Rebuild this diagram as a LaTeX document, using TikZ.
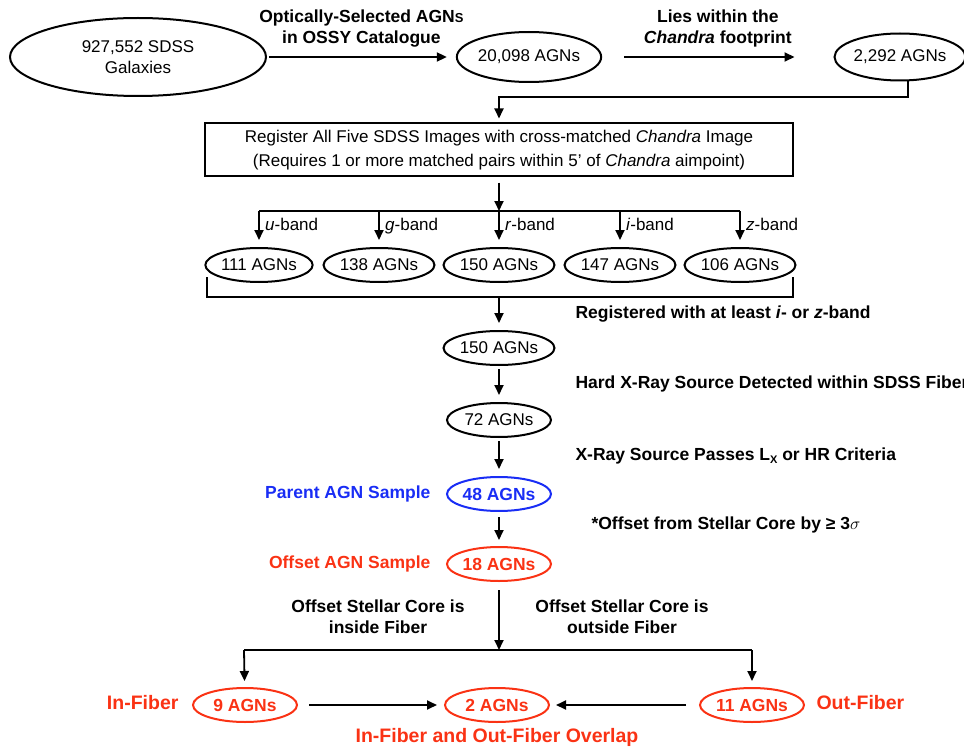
\documentclass[tikz,border=0pt]{standalone}
\usepackage{fontspec}
\setmainfont{Liberation Sans}
\usetikzlibrary{shapes.geometric,arrows.meta}
\definecolor{agnred}{RGB}{250,50,20}
\definecolor{agnblue}{RGB}{25,45,245}
\tikzset{
  galaxy/.style={draw,ellipse,line width=2pt,inner sep=0pt,align=center,font=\fontsize{17}{21}\selectfont},
  sample/.style={galaxy,minimum width=104pt,minimum height=34pt},
  redsample/.style={sample,draw=agnred,text=agnred,font=\bfseries\fontsize{17.5}{21}\selectfont},
  cut/.style={font=\bfseries\fontsize{17.5}{21}\selectfont,align=center},
  fiber/.style={cut,text=agnred,font=\bfseries\fontsize{19.5}{23}\selectfont},
  band/.style={font=\fontsize{17}{21}\selectfont,anchor=base west,inner sep=0pt},
  link/.style={draw,line width=1.8pt},
  arr/.style={link,-{Triangle[length=10pt,width=9pt]}},
}
\begin{document}
\begin{tikzpicture}[x=1pt,y=-1pt]
\useasboundingbox (0,0) rectangle (964,749);

\node[galaxy,minimum width=256pt,minimum height=78pt] (sdss) at (138,57) {927,552 SDSS\\Galaxies};
\node[galaxy,minimum width=141pt,minimum height=50pt] (ossy) at (529,57) {20,098 AGNs};
\node[galaxy,minimum width=115pt,minimum height=47pt] (fp) at (900,57) {2,292 AGNs};

\node[draw,line width=2pt,minimum width=588pt,minimum height=53pt,align=center,font=\fontsize{17}{24}\selectfont] (reg) at (499,150)
  {Register All Five SDSS Images with cross-matched \textit{Chandra} Image\\(Requires 1 or more matched pairs within 5' of \textit{Chandra} aimpoint)};

\coordinate (fpdown) at (908,97);
\coordinate (bsplit) at (499,211);
\coordinate (bu) at (259,211);
\coordinate (bg) at (379,211);
\coordinate (br) at (499,211);
\coordinate (bi) at (620,211);
\coordinate (bz) at (740,211);

\node[sample] (b111) at (259,265) {111 AGNs};
\node[sample] (b138) at (379,265) {138 AGNs};
\node[sample] (b150) at (499,265) {150 AGNs};
\node[sample] (b147) at (620,265) {147 AGNs};
\node[sample] (b106) at (740,265) {106 AGNs};

\node[band] (lu) at (265,230) {\textit{u}-band};
\node[band] (lg) at (385,230) {\textit{g}-band};
\node[band] (lr) at (505,230) {\textit{r}-band};
\node[band] (li) at (626,230) {\textit{i}-band};
\node[band] (lz) at (746,230) {\textit{z}-band};

\coordinate (bl) at (207,277);
\coordinate (bl2) at (207,297);
\coordinate (br2) at (793,297);
\coordinate (brr) at (793,277);
\coordinate (bmid) at (499,297);

\node[sample] (a150) at (499,348) {150 AGNs};
\node[sample] (a72) at (499,420) {72 AGNs};
\node[sample,draw=agnblue,text=agnblue,font=\bfseries\fontsize{17.5}{21}\selectfont] (a48) at (499,494) {48 AGNs};
\node[redsample] (a18) at (499,564) {18 AGNs};

\node[cut,anchor=west] (iz) at (572,314) {Registered with at least \textit{i}- or \textit{z}-band};
\node[cut,anchor=west] (hard) at (572,384) {Hard X-Ray Source Detected within SDSS Fiber};
\node[cut,anchor=west] (lx) at (572,456) {X-Ray Source Passes L{\fontsize{11}{11}\selectfont\raisebox{-2.5pt}{X}} or HR Criteria};
\node[cut,anchor=west] (sig) at (588,525) {*Offset from Stellar Core by ≥ 3$\sigma$};
\node[cut,text=agnblue,anchor=east] (parent) at (434,494) {Parent AGN Sample};
\node[cut,text=agnred,anchor=east] (offset) at (434,564) {Offset AGN Sample};
\node[cut] (inside) at (378,617) {Offset Stellar Core is\\inside Fiber};
\node[cut] (outside) at (622,617) {Offset Stellar Core is\\outside Fiber};

\coordinate (fsplit) at (499,650);
\coordinate (fl) at (244,650);
\coordinate (fr) at (752,650);

\node[redsample] (in9) at (245,705) {9 AGNs};
\node[redsample] (ov2) at (497,705) {2 AGNs};
\node[redsample] (out11) at (752,705) {11 AGNs};

\node[fiber,anchor=east] (inlbl) at (182,703) {In-Fiber};
\node[fiber,anchor=west] (outlbl) at (813,703) {Out-Fiber};
\node[fiber] (ovlbl) at (497,737) {In-Fiber and Out-Fiber Overlap};

\path[arr,shorten <=2pt,shorten >=9pt] (sdss) -- (ossy) node[cut,midway,above=6pt] {Optically-Selected AGN{\fontsize{13}{13}\selectfont S}\\in OSSY Catalogue};
\path[arr,shorten <=22pt,shorten >=39pt] (ossy) -- (fp) node[cut,midway,above=6pt] {Lies within the\\\textit{Chandra} footprint};
\path[arr,shorten >=4pt] (fp.south -| fpdown) -- (fpdown) -| (reg.north);

\path[arr,shorten <=5pt] (reg) -- (bsplit);
\path[link] (bu) -- (bz);
\path[arr,shorten >=7pt] (bu) -- (b111);
\path[arr,shorten >=7pt] (bg) -- (b138);
\path[arr,shorten >=7pt] (br) -- (b150);
\path[arr,shorten >=7pt] (bi) -- (b147);
\path[arr,shorten >=7pt] (bz) -- (b106);

\path[link] (bl) -- (bl2) -- (br2) -- (brr);
\path[arr,shorten >=7pt] (bmid) -- (a150);
\path[arr,shorten <=3pt,shorten >=7pt] (a150) -- (a72);
\path[arr,shorten <=3pt,shorten >=7pt] (a72) -- (a48);
\path[arr,shorten <=5pt,shorten >=6pt] (a48) -- (a18);

\path[arr,shorten <=8pt] (a18) -- (fsplit);
\path[link] (fl) -- (fr);
\path[arr,shorten >=6pt] (fl) -- (in9);
\path[arr,shorten >=6pt] (fr) -- (out11);
\path[arr,shorten <=11pt,shorten >=7pt] (in9) -- (ov2);
\path[arr,shorten <=13pt,shorten >=6pt] (out11) -- (ov2);
\end{tikzpicture}
\end{document}
